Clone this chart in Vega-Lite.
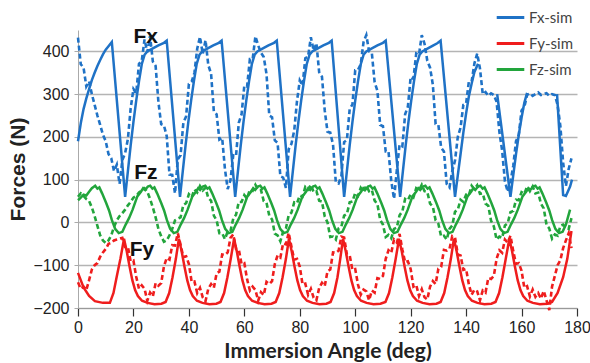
{
"$schema": "https://vega.github.io/schema/vega-lite/v6.json",
"width": 499, "height": 278,
"autosize": {"type": "none"},
"padding": {"left": 78, "top": 30, "right": 13, "bottom": 55},
"background": "white",
"config": {"view": {"stroke": null}, "font": "Liberation Sans"},
"datasets": {
"labels": [{"a":24.4,"v":434,"t":"Fx"},{"a":24.5,"v":115,"t":"Fz"},{"a":23.1,"v":-64,"t":"Fy"}],
"exp": [
{"a":0,"Fx-sim":432,"Fy-sim":-140,"Fz-sim":60},{"a":1,"Fx-sim":370,"Fy-sim":-155,"Fz-sim":68},{"a":2,"Fx-sim":362,"Fy-sim":-150,"Fz-sim":62},{"a":3,"Fx-sim":318,"Fy-sim":-158,"Fz-sim":55},{"a":4,"Fx-sim":330,"Fy-sim":-135,"Fz-sim":50},{"a":5,"Fx-sim":300,"Fy-sim":-110,"Fz-sim":35},{"a":6,"Fx-sim":275,"Fy-sim":-100,"Fz-sim":15},{"a":7,"Fx-sim":250,"Fy-sim":-95,"Fz-sim":-8},{"a":8,"Fx-sim":228,"Fy-sim":-80,"Fz-sim":-30},{"a":9,"Fx-sim":205,"Fy-sim":-70,"Fz-sim":-42},
{"a":10,"Fx-sim":190,"Fy-sim":-62,"Fz-sim":-48},{"a":11,"Fx-sim":160,"Fy-sim":-50,"Fz-sim":-42},{"a":12,"Fx-sim":150,"Fy-sim":-48,"Fz-sim":-30},{"a":13,"Fx-sim":120,"Fy-sim":-42,"Fz-sim":-10},{"a":14,"Fx-sim":135,"Fy-sim":-40,"Fz-sim":5},{"a":15,"Fx-sim":90,"Fy-sim":-38,"Fz-sim":15},{"a":16,"Fx-sim":146,"Fy-sim":-36,"Fz-sim":22},{"a":17,"Fx-sim":162,"Fy-sim":-57,"Fz-sim":30},{"a":18,"Fx-sim":195,"Fy-sim":-57,"Fz-sim":40},{"a":19,"Fx-sim":267,"Fy-sim":-91,"Fz-sim":48},
{"a":20,"Fx-sim":312,"Fy-sim":-89,"Fz-sim":58},{"a":21,"Fx-sim":302,"Fy-sim":-127,"Fz-sim":62},{"a":22,"Fx-sim":371,"Fy-sim":-155,"Fz-sim":70},{"a":23,"Fx-sim":378,"Fy-sim":-147,"Fz-sim":75},{"a":24,"Fx-sim":428,"Fy-sim":-155,"Fz-sim":80},{"a":25,"Fx-sim":398,"Fy-sim":-183,"Fz-sim":72},{"a":26,"Fx-sim":436,"Fy-sim":-164,"Fz-sim":55},{"a":27,"Fx-sim":376,"Fy-sim":-173,"Fz-sim":35},{"a":28,"Fx-sim":366,"Fy-sim":-142,"Fz-sim":12},{"a":29,"Fx-sim":282,"Fy-sim":-148,"Fz-sim":-15},
{"a":30,"Fx-sim":230,"Fy-sim":-142,"Fz-sim":-32},{"a":31,"Fx-sim":227,"Fy-sim":-103,"Fz-sim":-45},{"a":32,"Fx-sim":202,"Fy-sim":-83,"Fz-sim":-42},{"a":33,"Fx-sim":112,"Fy-sim":-87,"Fz-sim":-30},{"a":34,"Fx-sim":111,"Fy-sim":-53,"Fz-sim":-15},{"a":35,"Fx-sim":68,"Fy-sim":-54,"Fz-sim":5},{"a":36,"Fx-sim":148,"Fy-sim":-25,"Fz-sim":9},{"a":37,"Fx-sim":157,"Fy-sim":-52,"Fz-sim":12},{"a":38,"Fx-sim":233,"Fy-sim":-81,"Fz-sim":41},{"a":39,"Fx-sim":248,"Fy-sim":-79,"Fz-sim":45},
{"a":40,"Fx-sim":324,"Fy-sim":-97,"Fz-sim":66},{"a":41,"Fx-sim":329,"Fy-sim":-139,"Fz-sim":59},{"a":42,"Fx-sim":350,"Fy-sim":-138,"Fz-sim":77},{"a":43,"Fx-sim":406,"Fy-sim":-165,"Fz-sim":70},{"a":44,"Fx-sim":434,"Fy-sim":-153,"Fz-sim":85},{"a":45,"Fx-sim":394,"Fy-sim":-175,"Fz-sim":75},{"a":46,"Fx-sim":426,"Fy-sim":-184,"Fz-sim":81},{"a":47,"Fx-sim":368,"Fy-sim":-155,"Fz-sim":57},{"a":48,"Fx-sim":348,"Fy-sim":-144,"Fz-sim":51},{"a":49,"Fx-sim":260,"Fy-sim":-153,"Fz-sim":16},
{"a":50,"Fx-sim":253,"Fy-sim":-119,"Fz-sim":5},{"a":51,"Fx-sim":194,"Fy-sim":-115,"Fz-sim":-25},{"a":52,"Fx-sim":198,"Fy-sim":-75,"Fz-sim":-25},{"a":53,"Fx-sim":125,"Fy-sim":-76,"Fz-sim":-39},{"a":54,"Fx-sim":78,"Fy-sim":-70,"Fz-sim":-21},{"a":55,"Fx-sim":99,"Fy-sim":-36,"Fz-sim":-20},{"a":56,"Fx-sim":157,"Fy-sim":-28,"Fz-sim":9},{"a":57,"Fx-sim":155,"Fy-sim":-62,"Fz-sim":18},{"a":58,"Fx-sim":233,"Fy-sim":-63,"Fz-sim":48},{"a":59,"Fx-sim":253,"Fy-sim":-97,"Fz-sim":48},
{"a":60,"Fx-sim":320,"Fy-sim":-95,"Fz-sim":64},{"a":61,"Fx-sim":318,"Fy-sim":-133,"Fz-sim":56},{"a":62,"Fx-sim":382,"Fy-sim":-159,"Fz-sim":77},{"a":63,"Fx-sim":382,"Fy-sim":-150,"Fz-sim":74},{"a":64,"Fx-sim":435,"Fy-sim":-158,"Fz-sim":88},{"a":65,"Fx-sim":414,"Fy-sim":-183,"Fz-sim":76},{"a":66,"Fx-sim":397,"Fy-sim":-163,"Fz-sim":76},{"a":67,"Fx-sim":387,"Fy-sim":-170,"Fz-sim":50},{"a":68,"Fx-sim":347,"Fy-sim":-139,"Fz-sim":46},{"a":69,"Fx-sim":250,"Fy-sim":-144,"Fz-sim":16},
{"a":70,"Fx-sim":246,"Fy-sim":-137,"Fz-sim":7},{"a":71,"Fx-sim":192,"Fy-sim":-97,"Fz-sim":-26},{"a":72,"Fx-sim":186,"Fy-sim":-77,"Fz-sim":-30},{"a":73,"Fx-sim":108,"Fy-sim":-82,"Fz-sim":-44},{"a":74,"Fx-sim":105,"Fy-sim":-49,"Fz-sim":-21},{"a":75,"Fx-sim":81,"Fy-sim":-51,"Fz-sim":-14},{"a":76,"Fx-sim":171,"Fy-sim":-24,"Fz-sim":17},{"a":77,"Fx-sim":184,"Fy-sim":-57,"Fz-sim":23},{"a":78,"Fx-sim":215,"Fy-sim":-87,"Fz-sim":47},{"a":79,"Fx-sim":284,"Fy-sim":-85,"Fz-sim":45},
{"a":80,"Fx-sim":332,"Fy-sim":-103,"Fz-sim":63},{"a":81,"Fx-sim":320,"Fy-sim":-145,"Fz-sim":60},{"a":82,"Fx-sim":384,"Fy-sim":-143,"Fz-sim":83},{"a":83,"Fx-sim":388,"Fy-sim":-169,"Fz-sim":77},{"a":84,"Fx-sim":433,"Fy-sim":-155,"Fz-sim":88},{"a":85,"Fx-sim":402,"Fy-sim":-176,"Fz-sim":71},{"a":86,"Fx-sim":419,"Fy-sim":-182,"Fz-sim":73},{"a":87,"Fx-sim":351,"Fy-sim":-153,"Fz-sim":51},{"a":88,"Fx-sim":341,"Fy-sim":-141,"Fz-sim":49},{"a":89,"Fx-sim":262,"Fy-sim":-149,"Fz-sim":14},
{"a":90,"Fx-sim":212,"Fy-sim":-114,"Fz-sim":0},{"a":91,"Fx-sim":210,"Fy-sim":-110,"Fz-sim":-34},{"a":92,"Fx-sim":182,"Fy-sim":-70,"Fz-sim":-33},{"a":93,"Fx-sim":94,"Fy-sim":-71,"Fz-sim":-40},{"a":94,"Fx-sim":91,"Fy-sim":-66,"Fz-sim":-14},{"a":95,"Fx-sim":108,"Fy-sim":-33,"Fz-sim":-10},{"a":96,"Fx-sim":188,"Fy-sim":-35,"Fz-sim":16},{"a":97,"Fx-sim":193,"Fy-sim":-75,"Fz-sim":20},{"a":98,"Fx-sim":265,"Fy-sim":-77,"Fz-sim":47},{"a":99,"Fx-sim":276,"Fy-sim":-111,"Fz-sim":49},
{"a":100,"Fx-sim":356,"Fy-sim":-109,"Fz-sim":69},{"a":101,"Fx-sim":357,"Fy-sim":-145,"Fz-sim":62},{"a":102,"Fx-sim":370,"Fy-sim":-169,"Fz-sim":81},{"a":103,"Fx-sim":422,"Fy-sim":-157,"Fz-sim":72},{"a":104,"Fx-sim":438,"Fy-sim":-161,"Fz-sim":86},{"a":105,"Fx-sim":400,"Fy-sim":-182,"Fz-sim":73},{"a":106,"Fx-sim":396,"Fy-sim":-159,"Fz-sim":76},{"a":107,"Fx-sim":328,"Fy-sim":-164,"Fz-sim":51},{"a":108,"Fx-sim":308,"Fy-sim":-130,"Fz-sim":43},{"a":109,"Fx-sim":228,"Fy-sim":-132,"Fz-sim":6},
{"a":110,"Fx-sim":225,"Fy-sim":-125,"Fz-sim":-5},{"a":111,"Fx-sim":166,"Fy-sim":-85,"Fz-sim":-34},{"a":112,"Fx-sim":166,"Fy-sim":-65,"Fz-sim":-29},{"a":113,"Fx-sim":97,"Fy-sim":-71,"Fz-sim":-37},{"a":114,"Fx-sim":55,"Fy-sim":-40,"Fz-sim":-15},{"a":115,"Fx-sim":122,"Fy-sim":-47,"Fz-sim":-12},{"a":116,"Fx-sim":182,"Fy-sim":-27,"Fz-sim":17},{"a":117,"Fx-sim":178,"Fy-sim":-63,"Fz-sim":26},{"a":118,"Fx-sim":253,"Fy-sim":-93,"Fz-sim":55},{"a":119,"Fx-sim":271,"Fy-sim":-91,"Fz-sim":52},
{"a":120,"Fx-sim":340,"Fy-sim":-109,"Fz-sim":66},{"a":121,"Fx-sim":336,"Fy-sim":-150,"Fz-sim":59},{"a":122,"Fx-sim":395,"Fy-sim":-146,"Fz-sim":80},{"a":123,"Fx-sim":392,"Fy-sim":-172,"Fz-sim":75},{"a":124,"Fx-sim":438,"Fy-sim":-156,"Fz-sim":88},{"a":125,"Fx-sim":418,"Fy-sim":-175,"Fz-sim":73},{"a":126,"Fx-sim":378,"Fy-sim":-180,"Fz-sim":71},{"a":127,"Fx-sim":362,"Fy-sim":-150,"Fz-sim":44},{"a":128,"Fx-sim":322,"Fy-sim":-137,"Fz-sim":37},{"a":129,"Fx-sim":230,"Fy-sim":-144,"Fz-sim":5},
{"a":130,"Fx-sim":228,"Fy-sim":-108,"Fz-sim":-3},{"a":131,"Fx-sim":175,"Fy-sim":-104,"Fz-sim":-33},{"a":132,"Fx-sim":166,"Fy-sim":-64,"Fz-sim":-31},{"a":133,"Fx-sim":90,"Fy-sim":-66,"Fz-sim":-40},{"a":134,"Fx-sim":82,"Fy-sim":-62,"Fz-sim":-15},{"a":135,"Fx-sim":120,"Fy-sim":-32,"Fz-sim":-7},{"a":136,"Fx-sim":145,"Fy-sim":-35,"Fz-sim":25},{"a":137,"Fx-sim":200,"Fy-sim":-75,"Fz-sim":30},{"a":138,"Fx-sim":222,"Fy-sim":-77,"Fz-sim":53},{"a":139,"Fx-sim":275,"Fy-sim":-111,"Fz-sim":48},
{"a":140,"Fx-sim":278,"Fy-sim":-109,"Fz-sim":65},{"a":141,"Fx-sim":330,"Fy-sim":-145,"Fz-sim":64},{"a":142,"Fx-sim":330,"Fy-sim":-169,"Fz-sim":86},{"a":143,"Fx-sim":372,"Fy-sim":-157,"Fz-sim":78},{"a":144,"Fx-sim":395,"Fy-sim":-161,"Fz-sim":87},{"a":145,"Fx-sim":360,"Fy-sim":-182,"Fz-sim":67},{"a":146,"Fx-sim":300,"Fy-sim":-159,"Fz-sim":68},{"a":147,"Fx-sim":305,"Fy-sim":-164,"Fz-sim":44},{"a":148,"Fx-sim":296,"Fy-sim":-130,"Fz-sim":39},{"a":149,"Fx-sim":302,"Fy-sim":-132,"Fz-sim":4},
{"a":150,"Fx-sim":298,"Fy-sim":-125,"Fz-sim":-9},{"a":151,"Fx-sim":282,"Fy-sim":-85,"Fz-sim":-40},{"a":152,"Fx-sim":212,"Fy-sim":-65,"Fz-sim":-33},{"a":153,"Fx-sim":168,"Fy-sim":-71,"Fz-sim":-36},{"a":154,"Fx-sim":96,"Fy-sim":-40,"Fz-sim":-7},{"a":155,"Fx-sim":72,"Fy-sim":-47,"Fz-sim":-2},{"a":156,"Fx-sim":95,"Fy-sim":-31,"Fz-sim":24},{"a":157,"Fx-sim":132,"Fy-sim":-67,"Fz-sim":27},{"a":158,"Fx-sim":190,"Fy-sim":-97,"Fz-sim":53},{"a":159,"Fx-sim":205,"Fy-sim":-95,"Fz-sim":52},
{"a":160,"Fx-sim":262,"Fy-sim":-113,"Fz-sim":71},{"a":161,"Fx-sim":270,"Fy-sim":-153,"Fz-sim":67},{"a":162,"Fx-sim":298,"Fy-sim":-149,"Fz-sim":84},{"a":163,"Fx-sim":302,"Fy-sim":-173,"Fz-sim":73},{"a":164,"Fx-sim":296,"Fy-sim":-157,"Fz-sim":84},{"a":165,"Fx-sim":300,"Fy-sim":-174,"Fz-sim":68},{"a":166,"Fx-sim":304,"Fy-sim":-165,"Fz-sim":70},{"a":167,"Fx-sim":298,"Fy-sim":-178,"Fz-sim":44},{"a":168,"Fx-sim":300,"Fy-sim":-160,"Fz-sim":33},{"a":169,"Fx-sim":302,"Fy-sim":-182,"Fz-sim":-5},
{"a":170,"Fx-sim":296,"Fy-sim":-205,"Fz-sim":-14},{"a":171,"Fx-sim":300,"Fy-sim":-150,"Fz-sim":-38},{"a":172,"Fx-sim":298,"Fy-sim":-125,"Fz-sim":-28},{"a":173,"Fx-sim":275,"Fy-sim":-100,"Fz-sim":-31},{"a":174,"Fx-sim":225,"Fy-sim":-88,"Fz-sim":-8},{"a":175,"Fx-sim":140,"Fy-sim":-60,"Fz-sim":-5},{"a":176,"Fx-sim":85,"Fy-sim":-42,"Fz-sim":-12},{"a":177,"Fx-sim":125,"Fy-sim":-25,"Fz-sim":-15},{"a":178,"Fx-sim":150,"Fy-sim":-60,"Fz-sim":10}
],
"sim": [
{"a":0,"v":190,"s":"Fx-sim"},{"a":1,"v":232,"s":"Fx-sim"},{"a":2,"v":265,"s":"Fx-sim"},{"a":3,"v":290,"s":"Fx-sim"},{"a":4,"v":312,"s":"Fx-sim"},{"a":5,"v":333,"s":"Fx-sim"},{"a":6,"v":350,"s":"Fx-sim"},{"a":7,"v":366,"s":"Fx-sim"},{"a":8,"v":380,"s":"Fx-sim"},{"a":9,"v":393,"s":"Fx-sim"},{"a":10,"v":404,"s":"Fx-sim"},{"a":11,"v":412,"s":"Fx-sim"},{"a":12.2,"v":422,"s":"Fx-sim"},
{"a":17,"v":60,"s":"Fx-sim"},{"a":18,"v":120,"s":"Fx-sim"},{"a":19,"v":180,"s":"Fx-sim"},{"a":20,"v":235,"s":"Fx-sim"},{"a":21,"v":285,"s":"Fx-sim"},{"a":22,"v":330,"s":"Fx-sim"},{"a":23,"v":370,"s":"Fx-sim"},{"a":24,"v":392,"s":"Fx-sim"},{"a":25,"v":400,"s":"Fx-sim"},{"a":27,"v":407,"s":"Fx-sim"},{"a":29,"v":414,"s":"Fx-sim"},{"a":31,"v":420,"s":"Fx-sim"},{"a":32,"v":425,"s":"Fx-sim"},
{"a":36.8,"v":60,"s":"Fx-sim"},{"a":37.8,"v":120,"s":"Fx-sim"},{"a":38.8,"v":180,"s":"Fx-sim"},{"a":39.8,"v":235,"s":"Fx-sim"},{"a":40.8,"v":285,"s":"Fx-sim"},{"a":41.8,"v":330,"s":"Fx-sim"},{"a":42.8,"v":370,"s":"Fx-sim"},{"a":43.8,"v":392,"s":"Fx-sim"},{"a":44.8,"v":400,"s":"Fx-sim"},{"a":46.8,"v":407,"s":"Fx-sim"},{"a":48.8,"v":414,"s":"Fx-sim"},{"a":50.8,"v":420,"s":"Fx-sim"},{"a":51.8,"v":425,"s":"Fx-sim"},
{"a":56.7,"v":60,"s":"Fx-sim"},{"a":57.7,"v":120,"s":"Fx-sim"},{"a":58.7,"v":180,"s":"Fx-sim"},{"a":59.7,"v":235,"s":"Fx-sim"},{"a":60.7,"v":285,"s":"Fx-sim"},{"a":61.7,"v":330,"s":"Fx-sim"},{"a":62.7,"v":370,"s":"Fx-sim"},{"a":63.7,"v":392,"s":"Fx-sim"},{"a":64.7,"v":400,"s":"Fx-sim"},{"a":66.7,"v":407,"s":"Fx-sim"},{"a":68.7,"v":414,"s":"Fx-sim"},{"a":70.7,"v":420,"s":"Fx-sim"},{"a":71.7,"v":425,"s":"Fx-sim"},
{"a":76.5,"v":60,"s":"Fx-sim"},{"a":77.5,"v":120,"s":"Fx-sim"},{"a":78.5,"v":180,"s":"Fx-sim"},{"a":79.5,"v":235,"s":"Fx-sim"},{"a":80.5,"v":285,"s":"Fx-sim"},{"a":81.5,"v":330,"s":"Fx-sim"},{"a":82.5,"v":370,"s":"Fx-sim"},{"a":83.5,"v":392,"s":"Fx-sim"},{"a":84.5,"v":400,"s":"Fx-sim"},{"a":86.5,"v":407,"s":"Fx-sim"},{"a":88.5,"v":414,"s":"Fx-sim"},{"a":90.5,"v":420,"s":"Fx-sim"},{"a":91.5,"v":425,"s":"Fx-sim"},
{"a":96,"v":60,"s":"Fx-sim"},{"a":97,"v":120,"s":"Fx-sim"},{"a":98,"v":180,"s":"Fx-sim"},{"a":99,"v":235,"s":"Fx-sim"},{"a":100,"v":285,"s":"Fx-sim"},{"a":101,"v":330,"s":"Fx-sim"},{"a":102,"v":370,"s":"Fx-sim"},{"a":103,"v":392,"s":"Fx-sim"},{"a":104,"v":400,"s":"Fx-sim"},{"a":106,"v":407,"s":"Fx-sim"},{"a":108,"v":414,"s":"Fx-sim"},{"a":110,"v":420,"s":"Fx-sim"},{"a":111,"v":425,"s":"Fx-sim"},
{"a":116.2,"v":60,"s":"Fx-sim"},{"a":117.2,"v":120,"s":"Fx-sim"},{"a":118.2,"v":180,"s":"Fx-sim"},{"a":119.2,"v":235,"s":"Fx-sim"},{"a":120.2,"v":285,"s":"Fx-sim"},{"a":121.2,"v":330,"s":"Fx-sim"},{"a":122.2,"v":370,"s":"Fx-sim"},{"a":123.2,"v":392,"s":"Fx-sim"},{"a":124.2,"v":400,"s":"Fx-sim"},{"a":126.2,"v":407,"s":"Fx-sim"},{"a":128.2,"v":414,"s":"Fx-sim"},{"a":129.6,"v":419,"s":"Fx-sim"},{"a":130.8,"v":425,"s":"Fx-sim"},
{"a":136,"v":60,"s":"Fx-sim"},{"a":137,"v":110,"s":"Fx-sim"},{"a":138,"v":160,"s":"Fx-sim"},{"a":139,"v":210,"s":"Fx-sim"},{"a":140,"v":255,"s":"Fx-sim"},{"a":141,"v":295,"s":"Fx-sim"},{"a":142,"v":325,"s":"Fx-sim"},{"a":143,"v":352,"s":"Fx-sim"},{"a":144.3,"v":371,"s":"Fx-sim"},{"a":145,"v":null,"s":"Fx-sim"},
{"a":151.2,"v":300,"s":"Fx-sim"},{"a":156,"v":60,"s":"Fx-sim"},{"a":157,"v":110,"s":"Fx-sim"},{"a":158,"v":160,"s":"Fx-sim"},{"a":159,"v":205,"s":"Fx-sim"},{"a":160,"v":245,"s":"Fx-sim"},{"a":161,"v":280,"s":"Fx-sim"},{"a":162,"v":303,"s":"Fx-sim"},{"a":163,"v":null,"s":"Fx-sim"},
{"a":172.8,"v":300,"s":"Fx-sim"},{"a":175,"v":64,"s":"Fx-sim"},{"a":176,"v":62,"s":"Fx-sim"},{"a":177.5,"v":84,"s":"Fx-sim"},{"a":178.2,"v":100,"s":"Fx-sim"},
{"a":0,"v":-118,"s":"Fy-sim"},{"a":2,"v":-152,"s":"Fy-sim"},{"a":4,"v":-172,"s":"Fy-sim"},{"a":6.1,"v":-184,"s":"Fy-sim"},{"a":9,"v":-188,"s":"Fy-sim"},{"a":11.5,"v":-188,"s":"Fy-sim"},{"a":12.8,"v":-165,"s":"Fy-sim"},{"a":14,"v":-126,"s":"Fy-sim"},{"a":15.3,"v":-85,"s":"Fy-sim"},{"a":16.6,"v":-38,"s":"Fy-sim"},
{"a":17.6,"v":-68,"s":"Fy-sim"},{"a":18.6,"v":-103,"s":"Fy-sim"},{"a":19.6,"v":-135,"s":"Fy-sim"},{"a":20.6,"v":-158,"s":"Fy-sim"},{"a":21.6,"v":-172,"s":"Fy-sim"},{"a":23.1,"v":-183,"s":"Fy-sim"},{"a":25.1,"v":-188,"s":"Fy-sim"},{"a":27.6,"v":-191,"s":"Fy-sim"},{"a":30.1,"v":-190,"s":"Fy-sim"},{"a":31.6,"v":-186,"s":"Fy-sim"},{"a":32.9,"v":-165,"s":"Fy-sim"},{"a":34.1,"v":-128,"s":"Fy-sim"},{"a":35.3,"v":-85,"s":"Fy-sim"},{"a":36.4,"v":-38,"s":"Fy-sim"},
{"a":37.4,"v":-68,"s":"Fy-sim"},{"a":38.4,"v":-103,"s":"Fy-sim"},{"a":39.4,"v":-135,"s":"Fy-sim"},{"a":40.4,"v":-158,"s":"Fy-sim"},{"a":41.4,"v":-172,"s":"Fy-sim"},{"a":42.9,"v":-183,"s":"Fy-sim"},{"a":44.9,"v":-188,"s":"Fy-sim"},{"a":47.4,"v":-191,"s":"Fy-sim"},{"a":49.9,"v":-190,"s":"Fy-sim"},{"a":51.4,"v":-186,"s":"Fy-sim"},{"a":52.7,"v":-165,"s":"Fy-sim"},{"a":53.9,"v":-128,"s":"Fy-sim"},{"a":55.1,"v":-85,"s":"Fy-sim"},{"a":56.3,"v":-38,"s":"Fy-sim"},
{"a":57.3,"v":-68,"s":"Fy-sim"},{"a":58.3,"v":-103,"s":"Fy-sim"},{"a":59.3,"v":-135,"s":"Fy-sim"},{"a":60.3,"v":-158,"s":"Fy-sim"},{"a":61.3,"v":-172,"s":"Fy-sim"},{"a":62.8,"v":-183,"s":"Fy-sim"},{"a":64.8,"v":-188,"s":"Fy-sim"},{"a":67.3,"v":-191,"s":"Fy-sim"},{"a":69.8,"v":-190,"s":"Fy-sim"},{"a":71.3,"v":-186,"s":"Fy-sim"},{"a":72.6,"v":-165,"s":"Fy-sim"},{"a":73.8,"v":-128,"s":"Fy-sim"},{"a":75,"v":-85,"s":"Fy-sim"},{"a":76.1,"v":-38,"s":"Fy-sim"},
{"a":77.1,"v":-68,"s":"Fy-sim"},{"a":78.1,"v":-103,"s":"Fy-sim"},{"a":79.1,"v":-135,"s":"Fy-sim"},{"a":80.1,"v":-158,"s":"Fy-sim"},{"a":81.1,"v":-172,"s":"Fy-sim"},{"a":82.6,"v":-183,"s":"Fy-sim"},{"a":84.6,"v":-188,"s":"Fy-sim"},{"a":87.1,"v":-191,"s":"Fy-sim"},{"a":89.6,"v":-190,"s":"Fy-sim"},{"a":91.1,"v":-186,"s":"Fy-sim"},{"a":92.4,"v":-165,"s":"Fy-sim"},{"a":93.6,"v":-128,"s":"Fy-sim"},{"a":94.6,"v":-85,"s":"Fy-sim"},{"a":95.6,"v":-38,"s":"Fy-sim"},
{"a":96.6,"v":-68,"s":"Fy-sim"},{"a":97.6,"v":-103,"s":"Fy-sim"},{"a":98.6,"v":-135,"s":"Fy-sim"},{"a":99.6,"v":-158,"s":"Fy-sim"},{"a":100.6,"v":-172,"s":"Fy-sim"},{"a":102.1,"v":-183,"s":"Fy-sim"},{"a":104.1,"v":-188,"s":"Fy-sim"},{"a":106.6,"v":-191,"s":"Fy-sim"},{"a":109.1,"v":-190,"s":"Fy-sim"},{"a":110.9,"v":-186,"s":"Fy-sim"},{"a":112.2,"v":-165,"s":"Fy-sim"},{"a":113.4,"v":-128,"s":"Fy-sim"},{"a":114.6,"v":-85,"s":"Fy-sim"},{"a":115.8,"v":-38,"s":"Fy-sim"},
{"a":116.8,"v":-68,"s":"Fy-sim"},{"a":117.8,"v":-103,"s":"Fy-sim"},{"a":118.8,"v":-135,"s":"Fy-sim"},{"a":119.8,"v":-158,"s":"Fy-sim"},{"a":120.8,"v":-172,"s":"Fy-sim"},{"a":122.3,"v":-183,"s":"Fy-sim"},{"a":124.3,"v":-188,"s":"Fy-sim"},{"a":126.8,"v":-191,"s":"Fy-sim"},{"a":129.3,"v":-190,"s":"Fy-sim"},{"a":130.8,"v":-186,"s":"Fy-sim"},{"a":132.1,"v":-165,"s":"Fy-sim"},{"a":133.3,"v":-128,"s":"Fy-sim"},{"a":134.5,"v":-85,"s":"Fy-sim"},{"a":135.6,"v":-38,"s":"Fy-sim"},
{"a":136.6,"v":-68,"s":"Fy-sim"},{"a":137.6,"v":-103,"s":"Fy-sim"},{"a":138.6,"v":-135,"s":"Fy-sim"},{"a":139.6,"v":-158,"s":"Fy-sim"},{"a":140.6,"v":-172,"s":"Fy-sim"},{"a":142.1,"v":-183,"s":"Fy-sim"},{"a":144.1,"v":-188,"s":"Fy-sim"},{"a":146.6,"v":-191,"s":"Fy-sim"},{"a":149.1,"v":-190,"s":"Fy-sim"},{"a":150.6,"v":-186,"s":"Fy-sim"},{"a":151.9,"v":-165,"s":"Fy-sim"},{"a":153.1,"v":-128,"s":"Fy-sim"},{"a":154.3,"v":-85,"s":"Fy-sim"},{"a":155.6,"v":-38,"s":"Fy-sim"},
{"a":156.6,"v":-68,"s":"Fy-sim"},{"a":157.6,"v":-103,"s":"Fy-sim"},{"a":158.6,"v":-135,"s":"Fy-sim"},{"a":159.6,"v":-158,"s":"Fy-sim"},{"a":160.6,"v":-172,"s":"Fy-sim"},{"a":162.1,"v":-183,"s":"Fy-sim"},{"a":164.1,"v":-188,"s":"Fy-sim"},{"a":166.6,"v":-191,"s":"Fy-sim"},{"a":169.1,"v":-190,"s":"Fy-sim"},{"a":171,"v":-186,"s":"Fy-sim"},{"a":173,"v":-165,"s":"Fy-sim"},{"a":175,"v":-128,"s":"Fy-sim"},{"a":176.5,"v":-85,"s":"Fy-sim"},{"a":178,"v":-20,"s":"Fy-sim"},
{"a":0,"v":52,"s":"Fz-sim"},{"a":1,"v":58,"s":"Fz-sim"},{"a":2,"v":65,"s":"Fz-sim"},{"a":3,"v":63,"s":"Fz-sim"},{"a":4,"v":72,"s":"Fz-sim"},{"a":5,"v":80,"s":"Fz-sim"},
{"a":6.2,"v":86,"s":"Fz-sim"},{"a":7,"v":79,"s":"Fz-sim"},{"a":7.7,"v":82,"s":"Fz-sim"},{"a":8.7,"v":68,"s":"Fz-sim"},{"a":10.2,"v":45,"s":"Fz-sim"},{"a":11.2,"v":28,"s":"Fz-sim"},{"a":12.2,"v":6,"s":"Fz-sim"},{"a":13.4,"v":-15,"s":"Fz-sim"},{"a":14.7,"v":-25,"s":"Fz-sim"},{"a":16,"v":-22,"s":"Fz-sim"},{"a":17.2,"v":-5,"s":"Fz-sim"},{"a":18.4,"v":10,"s":"Fz-sim"},{"a":19.7,"v":30,"s":"Fz-sim"},{"a":21.4,"v":61,"s":"Fz-sim"},{"a":22.7,"v":72,"s":"Fz-sim"},{"a":23.5,"v":80,"s":"Fz-sim"},{"a":24.2,"v":76,"s":"Fz-sim"},{"a":25.2,"v":84,"s":"Fz-sim"},
{"a":26.05,"v":86,"s":"Fz-sim"},{"a":26.85,"v":79,"s":"Fz-sim"},{"a":27.55,"v":82,"s":"Fz-sim"},{"a":28.55,"v":68,"s":"Fz-sim"},{"a":30.05,"v":45,"s":"Fz-sim"},{"a":31.05,"v":28,"s":"Fz-sim"},{"a":32.05,"v":6,"s":"Fz-sim"},{"a":33.25,"v":-15,"s":"Fz-sim"},{"a":34.55,"v":-25,"s":"Fz-sim"},{"a":35.85,"v":-22,"s":"Fz-sim"},{"a":37.05,"v":-5,"s":"Fz-sim"},{"a":38.25,"v":10,"s":"Fz-sim"},{"a":39.55,"v":30,"s":"Fz-sim"},{"a":41.25,"v":61,"s":"Fz-sim"},{"a":42.55,"v":72,"s":"Fz-sim"},{"a":43.35,"v":80,"s":"Fz-sim"},{"a":44.05,"v":76,"s":"Fz-sim"},{"a":45.05,"v":84,"s":"Fz-sim"},
{"a":45.9,"v":86,"s":"Fz-sim"},{"a":46.7,"v":79,"s":"Fz-sim"},{"a":47.4,"v":82,"s":"Fz-sim"},{"a":48.4,"v":68,"s":"Fz-sim"},{"a":49.9,"v":45,"s":"Fz-sim"},{"a":50.9,"v":28,"s":"Fz-sim"},{"a":51.9,"v":6,"s":"Fz-sim"},{"a":53.1,"v":-15,"s":"Fz-sim"},{"a":54.4,"v":-25,"s":"Fz-sim"},{"a":55.7,"v":-22,"s":"Fz-sim"},{"a":56.9,"v":-5,"s":"Fz-sim"},{"a":58.1,"v":10,"s":"Fz-sim"},{"a":59.4,"v":30,"s":"Fz-sim"},{"a":61.1,"v":61,"s":"Fz-sim"},{"a":62.4,"v":72,"s":"Fz-sim"},{"a":63.2,"v":80,"s":"Fz-sim"},{"a":63.9,"v":76,"s":"Fz-sim"},{"a":64.9,"v":84,"s":"Fz-sim"},
{"a":65.75,"v":86,"s":"Fz-sim"},{"a":66.55,"v":79,"s":"Fz-sim"},{"a":67.25,"v":82,"s":"Fz-sim"},{"a":68.25,"v":68,"s":"Fz-sim"},{"a":69.75,"v":45,"s":"Fz-sim"},{"a":70.75,"v":28,"s":"Fz-sim"},{"a":71.75,"v":6,"s":"Fz-sim"},{"a":72.95,"v":-15,"s":"Fz-sim"},{"a":74.25,"v":-25,"s":"Fz-sim"},{"a":75.55,"v":-22,"s":"Fz-sim"},{"a":76.75,"v":-5,"s":"Fz-sim"},{"a":77.95,"v":10,"s":"Fz-sim"},{"a":79.25,"v":30,"s":"Fz-sim"},{"a":80.95,"v":61,"s":"Fz-sim"},{"a":82.25,"v":72,"s":"Fz-sim"},{"a":83.05,"v":80,"s":"Fz-sim"},{"a":83.75,"v":76,"s":"Fz-sim"},{"a":84.75,"v":84,"s":"Fz-sim"},
{"a":85.6,"v":86,"s":"Fz-sim"},{"a":86.4,"v":79,"s":"Fz-sim"},{"a":87.1,"v":82,"s":"Fz-sim"},{"a":88.1,"v":68,"s":"Fz-sim"},{"a":89.6,"v":45,"s":"Fz-sim"},{"a":90.6,"v":28,"s":"Fz-sim"},{"a":91.6,"v":6,"s":"Fz-sim"},{"a":92.8,"v":-15,"s":"Fz-sim"},{"a":94.1,"v":-25,"s":"Fz-sim"},{"a":95.4,"v":-22,"s":"Fz-sim"},{"a":96.6,"v":-5,"s":"Fz-sim"},{"a":97.8,"v":10,"s":"Fz-sim"},{"a":99.1,"v":30,"s":"Fz-sim"},{"a":100.8,"v":61,"s":"Fz-sim"},{"a":102.1,"v":72,"s":"Fz-sim"},{"a":102.9,"v":80,"s":"Fz-sim"},{"a":103.6,"v":76,"s":"Fz-sim"},{"a":104.6,"v":84,"s":"Fz-sim"},
{"a":105.45,"v":86,"s":"Fz-sim"},{"a":106.25,"v":79,"s":"Fz-sim"},{"a":106.95,"v":82,"s":"Fz-sim"},{"a":107.95,"v":68,"s":"Fz-sim"},{"a":109.45,"v":45,"s":"Fz-sim"},{"a":110.45,"v":28,"s":"Fz-sim"},{"a":111.45,"v":6,"s":"Fz-sim"},{"a":112.65,"v":-15,"s":"Fz-sim"},{"a":113.95,"v":-25,"s":"Fz-sim"},{"a":115.25,"v":-22,"s":"Fz-sim"},{"a":116.45,"v":-5,"s":"Fz-sim"},{"a":117.65,"v":10,"s":"Fz-sim"},{"a":118.95,"v":30,"s":"Fz-sim"},{"a":120.65,"v":61,"s":"Fz-sim"},{"a":121.95,"v":72,"s":"Fz-sim"},{"a":122.75,"v":80,"s":"Fz-sim"},{"a":123.45,"v":76,"s":"Fz-sim"},{"a":124.45,"v":84,"s":"Fz-sim"},
{"a":125.3,"v":86,"s":"Fz-sim"},{"a":126.1,"v":79,"s":"Fz-sim"},{"a":126.8,"v":82,"s":"Fz-sim"},{"a":127.8,"v":68,"s":"Fz-sim"},{"a":129.3,"v":45,"s":"Fz-sim"},{"a":130.3,"v":28,"s":"Fz-sim"},{"a":131.3,"v":6,"s":"Fz-sim"},{"a":132.5,"v":-15,"s":"Fz-sim"},{"a":133.8,"v":-25,"s":"Fz-sim"},{"a":135.1,"v":-22,"s":"Fz-sim"},{"a":136.3,"v":-5,"s":"Fz-sim"},{"a":137.5,"v":10,"s":"Fz-sim"},{"a":138.8,"v":30,"s":"Fz-sim"},{"a":140.5,"v":61,"s":"Fz-sim"},{"a":141.8,"v":72,"s":"Fz-sim"},{"a":142.6,"v":80,"s":"Fz-sim"},{"a":143.3,"v":76,"s":"Fz-sim"},{"a":144.3,"v":84,"s":"Fz-sim"},
{"a":145.15,"v":86,"s":"Fz-sim"},{"a":145.95,"v":79,"s":"Fz-sim"},{"a":146.65,"v":82,"s":"Fz-sim"},{"a":147.65,"v":68,"s":"Fz-sim"},{"a":149.15,"v":45,"s":"Fz-sim"},{"a":150.15,"v":28,"s":"Fz-sim"},{"a":151.15,"v":6,"s":"Fz-sim"},{"a":152.35,"v":-15,"s":"Fz-sim"},{"a":153.65,"v":-25,"s":"Fz-sim"},{"a":154.95,"v":-22,"s":"Fz-sim"},{"a":156.15,"v":-5,"s":"Fz-sim"},{"a":157.35,"v":10,"s":"Fz-sim"},{"a":158.65,"v":30,"s":"Fz-sim"},{"a":160.35,"v":61,"s":"Fz-sim"},{"a":161.65,"v":72,"s":"Fz-sim"},{"a":162.45,"v":80,"s":"Fz-sim"},{"a":163.15,"v":76,"s":"Fz-sim"},{"a":164.15,"v":84,"s":"Fz-sim"},
{"a":165,"v":86,"s":"Fz-sim"},{"a":165.8,"v":79,"s":"Fz-sim"},{"a":166.5,"v":82,"s":"Fz-sim"},{"a":167.5,"v":68,"s":"Fz-sim"},{"a":169,"v":45,"s":"Fz-sim"},{"a":170,"v":28,"s":"Fz-sim"},{"a":171,"v":6,"s":"Fz-sim"},{"a":172.2,"v":-15,"s":"Fz-sim"},{"a":173.5,"v":-25,"s":"Fz-sim"},{"a":174.8,"v":-22,"s":"Fz-sim"},{"a":176,"v":-5,"s":"Fz-sim"},{"a":177.5,"v":30,"s":"Fz-sim"}
]
},
"encoding": {
"x": {"field": "a", "type": "quantitative", "scale": {"domain": [0, 180], "nice": false, "zero": false},
  "axis": {"title": "Immersion Angle (deg)", "values": [0,20,40,60,80,100,120,140,160,180], "grid": false, "tickSize": 8, "tickColor": "#333333", "tickWidth": 1.2, "domainColor": "#999999", "domainWidth": 1.2, "labelFont": "Liberation Sans", "labelFontSize": 16, "labelColor": "#222222", "labelPadding": 3, "labelFlush": false, "titleFont": "Lato", "titleFontSize": 21, "titleFontWeight": "bold", "titleColor": "#222222", "titlePadding": 5}},
"y": {"field": "v", "type": "quantitative", "scale": {"domain": [-200, 450], "nice": false, "zero": false},
  "axis": {"title": "Forces (N)", "values": [-200,-100,0,100,200,300,400], "grid": true, "gridColor": "#b4b4b4", "gridWidth": 1.3, "tickSize": 4, "tickColor": "#aaaaaa", "domainColor": "#aaaaaa", "labelFont": "Liberation Sans", "labelFontSize": 16, "labelColor": "#222222", "labelPadding": 5, "labelFlush": false, "titleFont": "Liberation Sans", "titleFontSize": 21, "titleFontWeight": "bold", "titleColor": "#222222", "titlePadding": 4}}
},
"layer": [
{"data": {"name": "sim"},
 "mark": {"type": "line", "strokeWidth": 2.5},
 "encoding": {"color": {"field": "s", "type": "nominal",
   "scale": {"domain": ["Fx-sim", "Fy-sim", "Fz-sim"], "range": ["#1f72c6", "#ef1d1d", "#22a53c"]},
   "legend": {"title": null, "orient": "none", "legendX": 417, "legendY": -28, "symbolType": "stroke", "symbolSize": 760, "symbolStrokeWidth": 3, "labelFont": "Lato", "labelFontSize": 15, "labelColor": "#444444", "rowPadding": 2, "labelOffset": 3}}}},
{"data": {"name": "exp"},
 "transform": [{"fold": ["Fx-sim", "Fy-sim", "Fz-sim"], "as": ["s", "v"]}],
 "mark": {"type": "line", "strokeWidth": 2.6, "strokeDash": [5, 3]},
 "encoding": {"color": {"field": "s", "type": "nominal",
   "scale": {"domain": ["Fx-sim", "Fy-sim", "Fz-sim"], "range": ["#1f72c6", "#ef1d1d", "#22a53c"]},
   "legend": {"title": null, "orient": "none", "legendX": 417, "legendY": -28, "symbolType": "stroke", "symbolSize": 760, "symbolStrokeWidth": 3, "labelFont": "Lato", "labelFontSize": 15, "labelColor": "#444444", "rowPadding": 2, "labelOffset": 3}}}},
{"data": {"name": "labels"},
 "mark": {"type": "text", "font": "Liberation Sans", "fontSize": 21, "fontWeight": "bold", "align": "center", "baseline": "middle", "color": "#111111"},
 "encoding": {"text": {"field": "t"}}}
]
}
